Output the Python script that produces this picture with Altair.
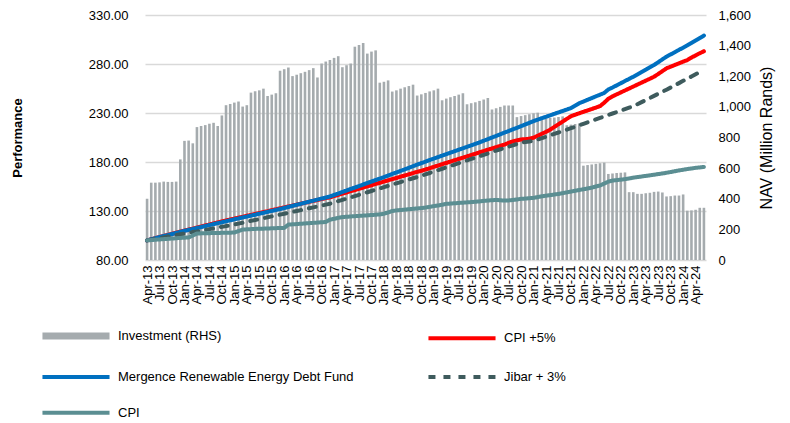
import altair as alt
import pandas as pd

# ---- categories -------------------------------------------------------------
months = pd.date_range("2013-04-01", periods=135, freq="MS").strftime("%b-%y").tolist()
tick_months = months[::3]

# ---- series -----------------------------------------------------------------
investment = [400, 505, 505, 507, 512, 510, 510, 512, 657, 778,
              780, 762, 868, 875, 881, 890, 896, 875, 944, 1011,
              1019, 1028, 1035, 1002, 1011, 1093, 1102, 1108, 1119, 1071,
              1080, 1089, 1236, 1246, 1257, 1201, 1210, 1220, 1229, 1240,
              1253, 1192, 1283, 1296, 1306, 1320, 1331, 1259, 1272, 1283,
              1393, 1404, 1417, 1348, 1361, 1369, 1158, 1164, 1173, 1100,
              1108, 1119, 1128, 1136, 1145, 1074, 1082, 1091, 1101, 1108,
              1119, 1043, 1054, 1063, 1071, 1080, 1089, 1017, 1024, 1030,
              1039, 1048, 1058, 983, 991, 1000, 1009, 1009, 1009, 933,
              940, 946, 952, 958, 962, 920, 924, 928, 930, 934,
              938, 880, 884, 888, 892, 616, 620, 624, 628, 632,
              636, 562, 565, 568, 570, 572, 443, 443, 432, 432,
              436, 439, 445, 447, 441, 415, 417, 421, 421, 428,
              322, 324, 328, 341, 341]

fund = [100, 101.1, 102.2, 103.3, 104.4, 105.4, 106.5, 107.6, 108.7, 109.7,
        110.7, 111.6, 112.6, 113.6, 114.6, 115.6, 116.6, 117.6, 118.5, 119.5,
        120.5, 121.5, 122.4, 123.4, 124.3, 125.3, 126.2, 127.2, 128.1, 129.1,
        130.1, 131.0, 132.0, 133.1, 134.1, 135.2, 136.3, 137.3, 138.4, 139.5,
        140.5, 141.6, 142.7, 143.7, 144.8, 146.3, 147.8, 149.4, 150.9, 152.4,
        153.9, 155.4, 157.0, 158.5, 160.0, 161.5, 163.0, 164.6, 166.2, 167.8,
        169.3, 170.9, 172.5, 174.1, 175.7, 177.3, 178.8, 180.4, 182.0, 183.5,
        185.0, 186.5, 188.0, 189.5, 191.0, 192.5, 194.0, 195.5, 197.0, 198.5,
        200.0, 201.7, 203.3, 205.0, 206.6, 208.3, 210.0, 211.6, 213.3, 214.9,
        216.6, 218.3, 220.0, 221.7, 223.2, 224.7, 226.1, 227.6, 229.1, 230.6,
        232.0, 233.5, 235.0, 237.5, 240.0, 241.7, 243.5, 245.2, 247.0, 248.7,
        250.5, 254.0, 256.0, 258.2, 260.4, 262.6, 264.8, 267.0, 269.4, 271.8,
        274.2, 276.6, 279.0, 281.8, 284.7, 287.5, 289.8, 292.1, 294.4, 296.7,
        299.0, 301.5, 304.0, 306.5, 309.0]

cpi_plus5 = [100, 101.1, 102.3, 103.4, 104.5, 105.6, 106.7, 107.8, 109.0, 110.0,
             111.0, 112.0, 113.1, 114.1, 115.2, 116.2, 117.3, 118.3, 119.3, 120.3,
             121.3, 122.2, 123.2, 124.1, 125.1, 126.0, 127.0, 127.9, 128.9, 129.8,
             130.8, 131.7, 132.7, 133.6, 134.6, 135.5, 136.5, 137.4, 138.4, 139.3,
             140.3, 141.2, 142.2, 143.1, 144.0, 145.2, 146.5, 147.7, 148.9, 150.2,
             151.4, 152.6, 153.9, 155.1, 156.3, 157.6, 158.8, 160.0, 161.3, 162.5,
             163.7, 165.0, 166.2, 167.4, 168.7, 169.9, 171.0, 172.3, 173.6, 175.0,
             176.3, 177.7, 179.0, 180.4, 181.7, 183.1, 184.4, 185.7, 187.1, 188.4,
             189.8, 191.1, 192.5, 193.8, 195.1, 196.4, 197.8, 199.5, 201.0, 202.0,
             203.0, 203.3, 203.8, 204.8, 206.8, 208.8, 210.8, 213.0, 215.8, 218.5,
             221.2, 224.0, 226.7, 228.2, 229.7, 231.2, 232.6, 234.0, 235.5, 237.0,
             240.5, 244.5, 247.0, 249.0, 251.0, 253.0, 255.0, 257.0, 259.0, 261.0,
             263.0, 265.0, 267.0, 269.8, 272.7, 275.6, 277.3, 279.0, 280.7, 282.4,
             284.0, 286.5, 288.8, 291.0, 293.0]

jibar_plus3 = [100, 100.8, 101.6, 102.3, 103.1, 103.9, 104.6, 105.4, 106.2, 106.9,
               107.7, 108.5, 109.2, 110.0, 110.8, 111.5, 112.3, 113.1, 113.8, 114.6,
               115.3, 116.2, 117.1, 118.0, 119.0, 119.9, 120.8, 121.7, 122.6, 123.6,
               124.5, 125.4, 126.3, 127.2, 128.2, 129.1, 130.0, 130.9, 131.8, 132.8,
               133.7, 134.6, 135.5, 136.5, 137.4, 138.7, 140.0, 141.3, 142.6, 143.9,
               145.2, 146.5, 147.8, 149.1, 150.4, 151.7, 153.0, 154.3, 155.6, 156.9,
               158.2, 159.5, 160.8, 162.1, 163.4, 164.7, 166.0, 167.4, 168.8, 170.3,
               171.7, 173.1, 174.5, 175.9, 177.4, 178.8, 180.2, 181.6, 183.1, 184.5,
               185.9, 187.3, 188.7, 190.2, 191.6, 193.0, 194.3, 195.7, 197.0, 198.4,
               199.8, 200.3, 200.9, 201.4, 202.9, 204.3, 205.8, 207.2, 208.7, 210.1,
               211.6, 213.0, 214.5, 216.0, 217.5, 219.0, 220.5, 222.0, 223.5, 225.0,
               226.5, 228.0, 229.5, 230.9, 232.4, 233.9, 235.4, 236.9, 239.0, 241.1,
               243.2, 245.3, 247.5, 249.6, 251.7, 253.8, 256.0, 258.3, 260.5, 262.8,
               265.0, 267.2, 269.5, 271.7, 274.0]

cpi = [100.0, 100.3, 100.7, 101.0, 101.3, 101.6, 101.9, 102.2, 102.5, 102.8,
       103.0, 105.0, 107.0, 107.2, 107.3, 107.4, 107.5, 107.6, 107.7, 107.8,
       107.9, 108.0, 109.5, 111.1, 111.3, 111.5, 111.7, 111.9, 112.0, 112.2,
       112.3, 112.5, 112.6, 112.7, 116.1, 116.4, 116.7, 117.0, 117.3, 117.6,
       117.9, 118.2, 118.5, 118.8, 121.1, 122.0, 123.0, 123.8, 124.1, 124.4,
       124.7, 125.0, 125.3, 125.6, 125.9, 126.2, 126.5, 127.2, 128.5, 130.0,
       130.6, 131.0, 131.4, 131.8, 132.2, 132.6, 133.0, 133.5, 134.2, 135.0,
       135.6, 136.4, 137.3, 137.6, 137.9, 138.2, 138.5, 138.8, 139.1, 139.4,
       139.8, 140.3, 140.7, 141.0, 141.3, 141.0, 140.6, 140.8, 141.2, 141.8,
       142.4, 142.7, 143.0, 143.4, 144.2, 145.0, 145.6, 146.2, 146.8, 147.4,
       148.2, 149.0, 149.8, 150.6, 151.4, 152.2, 153.0, 153.8, 155.0, 156.0,
       158.0, 160.0, 161.0, 161.5, 162.0, 162.5, 163.2, 164.0, 164.6, 165.2,
       165.8, 166.4, 167.0, 167.7, 168.3, 169.0, 169.8, 170.6, 171.4, 172.1,
       172.8, 173.4, 174.0, 174.5, 175.0]

series_names = ["Investment (RHS)", "CPI +5%", "Mergence Renewable Energy Debt Fund",
                "Jibar + 3%", "CPI"]
series_colors = ["#A5ABAE", "#FF0000", "#0070C0", "#3E5B5D", "#5B8E92"]
series_dashes = [[1, 0], [1, 0], [1, 0], [7, 8], [1, 0]]
series_widths = [7, 4, 4, 4, 4]

idx = list(range(len(months)))
bars_df = pd.DataFrame({"month": months, "idx": idx, "value": investment,
                        "series": series_names[0]})
lines_df = pd.concat([
    pd.DataFrame({"month": months, "idx": idx, "value": vals, "series": name})
    for name, vals in [(series_names[1], cpi_plus5), (series_names[2], fund),
                       (series_names[3], jibar_plus3), (series_names[4], cpi)]
], ignore_index=True)

FONT = "Liberation Sans"

legend = alt.Legend(title=None, orient="none", legendX=-84, legendY=306, columns=2,
                    direction="horizontal",
                    symbolType="M-3,0H3", symbolSize=500,
                    labelFont=FONT, labelFontSize=13, labelColor="#000000",
                    labelOffset=27, rowPadding=13.6, columnPadding=66,
                    labelLimit=400, padding=0)

x_enc = alt.X("month:N", sort=months, scale=alt.Scale(type="point", padding=0.5),
              axis=alt.Axis(values=tick_months, labelAngle=-90, labelFont=FONT,
                            labelFontSize=13, labelColor="#000000", labelPadding=5,
                            ticks=False, domain=False, grid=False, labelOverlap=False,
                            title=None))

color_enc = alt.Color("series:N", scale=alt.Scale(domain=series_names, range=series_colors),
                      legend=legend)

right_axis = alt.Axis(orient="right", title="NAV (Million Rands)", titleAngle=270,
                      values=list(range(0, 1601, 200)), format=",.0f",
                      labelFont=FONT, labelFontSize=13, labelColor="#000000",
                      labelPadding=12, ticks=False, domain=False, grid=False,
                      titleFont=FONT, titleFontSize=16, titleFontWeight="normal",
                      titleColor="#000000", titlePadding=24)

left_axis = alt.Axis(orient="left", title="Performance",
                     values=[80, 130, 180, 230, 280, 330], format=".2f",
                     labelFont=FONT, labelFontSize=13, labelColor="#000000",
                     labelPadding=17, ticks=False, domain=False, grid=True,
                     gridColor="#D9D9D9", gridWidth=1.5,
                     titleFont=FONT, titleFontSize=13, titleFontWeight="bold",
                     titleColor="#000000", titlePadding=64)

bars_chart = alt.Chart(bars_df).mark_rule(strokeWidth=2.6, strokeCap="butt").encode(
    x=x_enc,
    y=alt.Y("value:Q", scale=alt.Scale(domain=[0, 1600], nice=False), axis=right_axis),
    y2=alt.datum(0),
    color=color_enc,
)

lines_chart = alt.Chart(lines_df).mark_line(strokeCap="round", strokeJoin="round").encode(
    x=x_enc,
    y=alt.Y("value:Q", scale=alt.Scale(domain=[80, 330], nice=False), axis=left_axis),
    color=color_enc,
    strokeDash=alt.StrokeDash("series:N",
                              scale=alt.Scale(domain=series_names, range=series_dashes),
                              legend=legend),
    strokeWidth=alt.StrokeWidth("series:N",
                                scale=alt.Scale(type="ordinal", domain=series_names,
                                                range=series_widths),
                                legend=legend),
    order=alt.Order("idx:Q"),
)

chart = alt.layer(bars_chart, lines_chart).resolve_scale(y="independent").properties(
    width=561, height=245,
    autosize=alt.AutoSizeParams(type="none"),
    padding={"left": 137, "top": 7, "right": 72, "bottom": 175},
    background="white",
).configure_view(stroke=None)

chart.save("out.html", embed_options={"renderer": "svg", "actions": False})
